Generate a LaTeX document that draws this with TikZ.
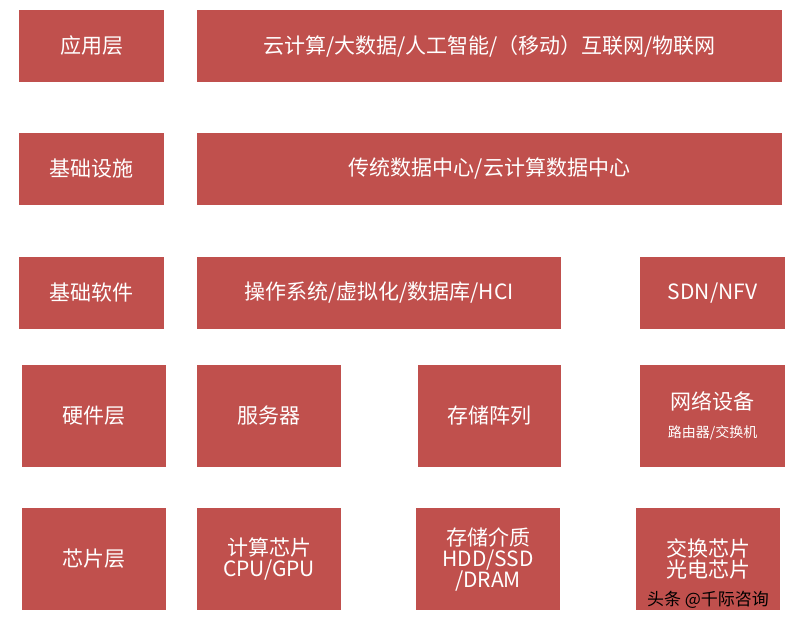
\documentclass[tikz,border=0pt]{standalone}
\usepackage{fontspec}
\setmainfont{Noto Sans CJK SC}
\definecolor{boxred}{HTML}{C0504D}
\begin{document}
\begin{tikzpicture}[x=1pt,y=-1pt,
  bx/.style={fill=boxred,draw=none,text=white,font=\fontsize{21}{24}\selectfont,align=center,inner sep=0pt}]
\useasboundingbox[fill=white] (0,0) rectangle (800,628);
\newcommand\bxx[6]{\fill[boxred] (#1,#2) rectangle (#3,#4); \node[bx] (#5) at ({(#1+#3)/2},{(#2+#4)/2}) {#6};}
\bxx{19}{10}{164}{82}{a1}{应用层}
\bxx{197}{10}{782}{82}{a2}{云计算/大数据/人工智能/（移动）互联网/物联网}
\bxx{19}{133}{164}{205}{b1}{基础设施}
\bxx{197}{133}{782}{205}{b2}{传统数据中心/云计算数据中心}
\bxx{19}{257}{164}{329}{c1}{基础软件}
\bxx{197}{257}{561}{329}{c2}{操作系统/虚拟化/数据库/HCI}
\bxx{640}{257}{785}{329}{c3}{SDN/NFV}
\bxx{22}{365}{166}{467}{d1}{硬件层}
\bxx{197}{365}{341}{467}{d2}{服务器}
\bxx{418}{365}{561}{467}{d3}{存储阵列}
\bxx{640}{365}{785}{467}{d4}{网络设备\\[4pt]{\fontsize{14}{16}\selectfont 路由器/交换机}}
\bxx{22}{508}{166}{610}{e1}{芯片层}
\bxx{197}{508}{341}{610}{e2}{计算芯片\\[-3pt]CPU/GPU}
\bxx{416}{508}{560}{610}{e3}{存储介质\\[-3pt]HDD/SSD\\[-3pt]/DRAM}
\bxx{636}{508}{780}{610}{e4}{交换芯片\\[-3pt]光电芯片}
\node[text=black,font=\fontsize{17}{20}\selectfont,inner sep=0pt] (wm) at (708,600) {头条 @千际咨询};
\end{tikzpicture}
\end{document}
